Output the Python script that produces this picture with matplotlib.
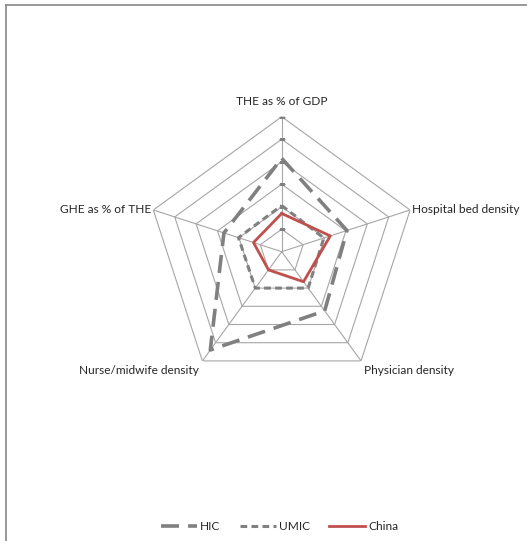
import matplotlib.pyplot as plt
import numpy as np
from matplotlib.lines import Line2D

categories = ["THE as % of GDP", "Hospital bed density", "Physician density",
              "Nurse/midwife density", "GHE as % of THE"]
hic = [4.15, 3.05, 3.25, 5.4, 2.7]
umic = [2.05, 1.97, 2.0, 2.0, 2.02]
china = [1.7, 2.27, 1.65, 1.0, 1.32]
levels = [1, 2, 3, 4, 5, 6]

plt.rcParams["font.family"] = ["Lato", "DejaVu Sans"]
grid_color = "#a6a6a6"
text_color = "#262626"

# axes start at the top and go clockwise
angles = np.pi / 2 - np.arange(len(categories)) * 2 * np.pi / len(categories)
closed = np.append(angles, angles[0])

fig = plt.figure(figsize=(5.27, 5.41), dpi=100)
ax = fig.add_axes([0.2784, 0.2852, 0.5123, 0.4991], polar=True)
ax.set_ylim(0, 6)
ax.grid(False)
ax.spines["polar"].set_visible(False)
ax.set_xticks([])
ax.set_yticks([])

# pentagon rings and spokes
for lv in levels:
    ax.plot(closed, [lv] * len(closed), color=grid_color, lw=0.8, zorder=1)
for a in angles:
    ax.plot([a, a], [0, levels[-1]], color=grid_color, lw=0.8, zorder=1)
# small tick marks on the first axis
ax.plot([angles[0]] * len(levels), levels, ls="none", marker="_",
        ms=4, mew=0.8, color="#7f7f7f", zorder=2)

def closed_vals(v):
    return list(v) + [v[0]]

ax.plot(closed, closed_vals(hic), color="#808080", lw=2.6,
        dashes=(5, 2.5), label="HIC", zorder=3)
ax.plot(closed, closed_vals(umic), color="#808080", lw=2.2,
        dashes=(2.2, 1.4), label="UMIC", zorder=3)
ax.plot(closed, closed_vals(china), color="#c0504d", lw=2.0,
        label="China", zorder=4)

# category labels just outside the outer ring
fs = 8.6
ax.text(angles[0], 6.45, categories[0], ha="center", va="bottom", fontsize=fs, color=text_color)
ax.text(angles[1], 6.1, categories[1], ha="left", va="center", fontsize=fs, color=text_color)
ax.text(angles[2], 6.25, categories[2], ha="left", va="top", fontsize=fs, color=text_color)
ax.text(angles[3], 6.25, categories[3], ha="right", va="top", fontsize=fs, color=text_color)
ax.text(angles[4], 6.1, categories[4], ha="right", va="center", fontsize=fs, color=text_color)

leg = fig.legend(loc="center", bbox_to_anchor=(0.531, 0.026), ncol=3, frameon=False,
                 fontsize=fs, handlelength=3.0, handletextpad=0.3, columnspacing=1.6)
for t in leg.get_texts():
    t.set_color(text_color)

# frame edges on the left and top
fig.add_artist(Line2D([6 / 527, 6 / 527], [0, 1 - 5 / 541], color="#888888", lw=1.2))
fig.add_artist(Line2D([6 / 527, 1], [1 - 5 / 541, 1 - 5 / 541], color="#888888", lw=1.2))

fig.savefig("out.png", dpi=100)
